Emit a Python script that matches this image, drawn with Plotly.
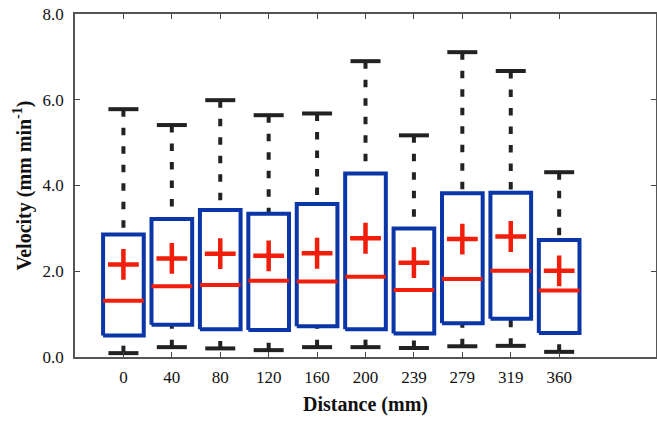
import plotly.graph_objects as go

categories = ["0", "40", "80", "120", "160", "200", "239", "279", "319", "360"]
upper = [5.78, 5.41, 5.99, 5.64, 5.68, 6.90, 5.17, 7.11, 6.67, 4.31]
q3 = [2.86, 3.22, 3.43, 3.34, 3.57, 4.28, 3.00, 3.82, 3.83, 2.73]
median = [1.31, 1.65, 1.68, 1.78, 1.76, 1.87, 1.56, 1.82, 2.01, 1.55]
mean = [2.16, 2.30, 2.41, 2.36, 2.42, 2.77, 2.20, 2.75, 2.81, 2.01]
q1 = [0.50, 0.75, 0.65, 0.63, 0.72, 0.65, 0.55, 0.79, 0.89, 0.56]
lower = [0.09, 0.23, 0.20, 0.16, 0.23, 0.23, 0.21, 0.25, 0.26, 0.12]
ytick_vals = [0, 2, 4, 6, 8]

BLUE = "#0a36a8"
RED = "#f01e0a"
BLACK = "#222222"
BOX_HALF = 0.42
CAP_HALF = 0.31

idx = list(range(len(categories)))

wx, wy = [], []
cx, cy = [], []
bx, by = [], []
mx, my = [], []
for i in idx:
    wx += [i, i, None, i, i, None]
    wy += [upper[i], q3[i], None, lower[i], q1[i], None]
    cx += [i - CAP_HALF, i + CAP_HALF, None, i - CAP_HALF, i + CAP_HALF, None]
    cy += [upper[i], upper[i], None, lower[i], lower[i], None]
    bx += [i - BOX_HALF, i + BOX_HALF, i + BOX_HALF, i - BOX_HALF, i - BOX_HALF, None]
    by += [q1[i], q1[i], q3[i], q3[i], q1[i], None]
    mx += [i - BOX_HALF, i + BOX_HALF, None]
    my += [median[i], median[i], None]

fig = go.Figure()
fig.add_trace(go.Scatter(x=wx, y=wy, mode="lines",
                         line=dict(color=BLACK, width=4, dash="7.5px,11px"),
                         hoverinfo="skip"))
fig.add_trace(go.Scatter(x=cx, y=cy, mode="lines",
                         line=dict(color=BLACK, width=4), hoverinfo="skip"))
fig.add_trace(go.Scatter(x=bx, y=by, mode="lines",
                         line=dict(color=BLUE, width=4), hoverinfo="skip"))
fig.add_trace(go.Scatter(x=mx, y=my, mode="lines",
                         line=dict(color=RED, width=4), hoverinfo="skip"))
fig.add_trace(go.Scatter(x=idx, y=mean, mode="markers",
                         marker=dict(symbol="cross-thin", size=22,
                                     line=dict(color=RED, width=4.5)),
                         hoverinfo="skip"))

font_family = "Liberation Serif, Times New Roman, serif"
fig.update_layout(
    width=657, height=423,
    margin=dict(l=75, r=1, t=14, b=66, autoexpand=False),
    plot_bgcolor="white", paper_bgcolor="white",
    showlegend=False,
    font=dict(family=font_family, size=17, color="#111"),
)
fig.update_xaxes(
    range=[-1, 11], tickmode="array", tickvals=idx, ticktext=categories,
    ticks="inside", ticklen=5, tickwidth=1, tickcolor="#444",
    showline=True, linecolor="#555", linewidth=1.5, mirror="ticks",
    showgrid=False, zeroline=False, automargin=False,
    ticklabelstandoff=4,
    title=dict(text="<b>Distance (mm)</b>", font=dict(size=20), standoff=11),
    tickfont=dict(size=17),
)
fig.update_yaxes(
    range=[0, 8], tickmode="array", tickvals=ytick_vals,
    ticktext=[f"{v:.1f}" for v in ytick_vals],
    ticks="inside", ticklen=5, tickwidth=1, tickcolor="#444",
    showline=True, linecolor="#555", linewidth=1.5, mirror="ticks",
    showgrid=False, zeroline=False, automargin=False,
    ticklabelstandoff=6,
    title=dict(text="<b>Velocity (mm min<sup>-1</sup>)</b>", font=dict(size=20), standoff=6),
    tickfont=dict(size=17),
)

fig.write_html("out.html",
               config={"displayModeBar": False},
               post_script="document.body.style.margin='0px';document.body.style.overflow='hidden';")
